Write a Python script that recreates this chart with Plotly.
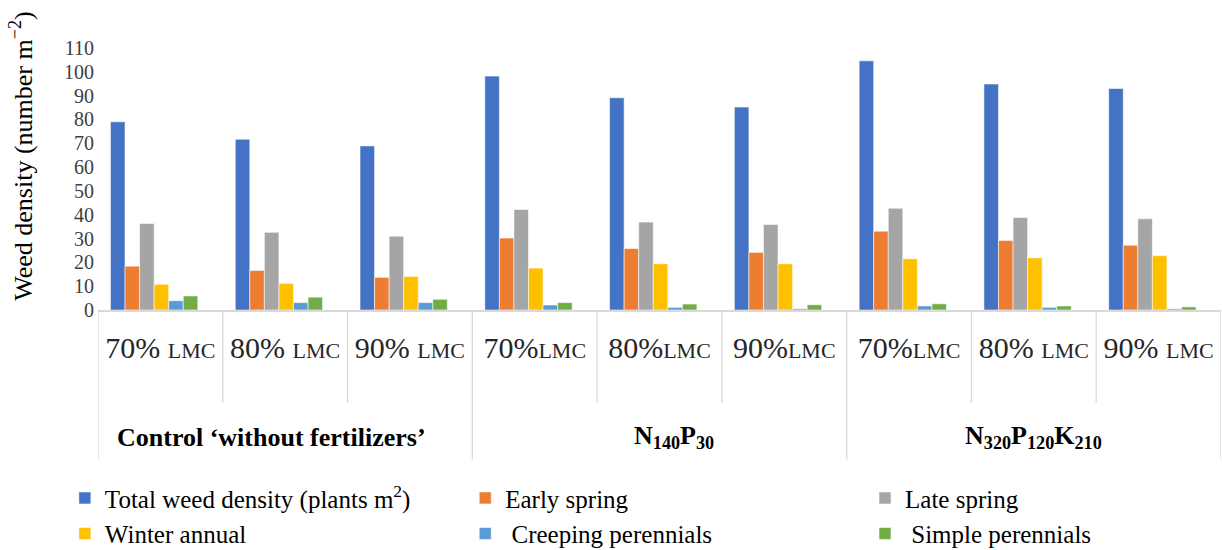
import plotly.graph_objects as go

# ---- data ----
groups = ["Control ‘without fertilizers’", "N<sub>140</sub>P<sub>30</sub>", "N<sub>320</sub>P<sub>120</sub>K<sub>210</sub>"]
levels = ["70%", "80%", "90%", "70%", "80%", "90%", "70%", "80%", "90%"]
level_sep = [" ", " ", " ", "", "", "", "", " ", " "]

series_names = ["Total weed density (plants m<sup>2</sup>)", "Early spring", "Late spring",
                "Winter annual", " Creeping perennials", " Simple perennials"]
total = [79.0, 71.7, 68.9, 98.2, 89.1, 85.2, 104.6, 94.9, 93.0]
early_spring = [18.4, 16.6, 13.7, 30.2, 25.8, 24.2, 33.1, 29.2, 27.2]
late_spring = [36.3, 32.6, 31.0, 42.2, 36.9, 35.9, 42.7, 38.8, 38.3]
winter_annual = [10.8, 11.2, 14.1, 17.6, 19.4, 19.4, 21.5, 21.9, 22.8]
creeping = [3.9, 3.1, 3.1, 2.1, 1.1, 0.5, 1.7, 1.1, 0.5]
simple = [5.9, 5.4, 4.5, 3.1, 2.5, 2.2, 2.6, 1.7, 1.3]
y_ticks = [0, 10, 20, 30, 40, 50, 60, 70, 80, 90, 100, 110]

colors = ["#4472C4", "#ED7D31", "#A5A5A5", "#FFC000", "#5B9BD5", "#70AD47"]
legend_of = ["legend", "legend2", "legend3", "legend", "legend2", "legend3"]
values = [total, early_spring, late_spring, winter_annual, creeping, simple]

SERIF = "Liberation Serif"
x_pos = list(range(len(levels)))

fig = go.Figure()
for name, vals, col, lg in zip(series_names, values, colors, legend_of):
    fig.add_trace(go.Bar(
        x=x_pos, y=vals, name=name, legend=lg,
        marker=dict(color=col, line=dict(color="rgba(255,255,255,0.7)", width=0.8)),
    ))

ticktext = [f"{lv}{sep}<span style='font-size:22px'>LMC</span>" for lv, sep in zip(levels, level_sep)]

# divider lines below the axis
shapes = []
for i in range(len(levels) + 1):
    outer = i % 3 == 0
    shapes.append(dict(type="line", xref="x", yref="paper",
                       x0=i - 0.45, x1=i - 0.45, y0=0, y1=-0.571 if outer else -0.354,
                       line=dict(color="#D9D9D9", width=1.3)))

annotations = []
group_x = [0.944, 4.165, 7.05]
for g, gx in zip(groups, group_x):
    annotations.append(dict(text=f"<b>{g}</b>", x=gx, xref="x", y=-0.486, yref="paper",
                            showarrow=False, xanchor="center", yanchor="middle",
                            font=dict(family=SERIF, size=26, color="#000000")))
annotations.append(dict(text="Weed density (number m<sup>−2</sup>)", textangle=-90,
                        x=0, xref="paper", xshift=-76, y=0.585, yref="paper",
                        showarrow=False, xanchor="center", yanchor="middle",
                        font=dict(family=SERIF, size=26, color="#000000")))

legend_common = dict(orientation="v", font=dict(family=SERIF, size=25, color="#000000"),
                     bgcolor="rgba(0,0,0,0)", yanchor="top", xanchor="left",
                     yref="container", y=0.136, tracegroupgap=0)

fig.update_layout(
    template="none",
    width=1222, height=550,
    margin=dict(l=98, r=1, t=47.5, b=240),
    paper_bgcolor="white", plot_bgcolor="white",
    barmode="group", bargap=0.30, bargroupgap=0,
    font=dict(family=SERIF),
    xaxis=dict(range=[-0.45, 8.55], tickmode="array", tickvals=[x + 0.05 for x in x_pos],
               ticktext=ticktext, ticks="", showgrid=False, zeroline=False, automargin=False,
               showline=True, linecolor="#D9D9D9", linewidth=1.5,
               tickfont=dict(family=SERIF, size=30, color="#262626"),
               ticklabelstandoff=10),
    yaxis=dict(range=[0, 110], tickmode="array", tickvals=y_ticks, ticks="",
               showgrid=False, zeroline=False, showline=False, automargin=False,
               tickfont=dict(family=SERIF, size=20, color="#404040"),
               ticklabelstandoff=3),
    legend=dict(x=-0.0295, **legend_common),
    legend2=dict(x=0.327, **legend_common),
    legend3=dict(x=0.683, **legend_common),
    shapes=shapes, annotations=annotations, showlegend=True,
)

fig.write_html("out.html", config={"displayModeBar": False},
               post_script="document.body.style.margin='0';")
